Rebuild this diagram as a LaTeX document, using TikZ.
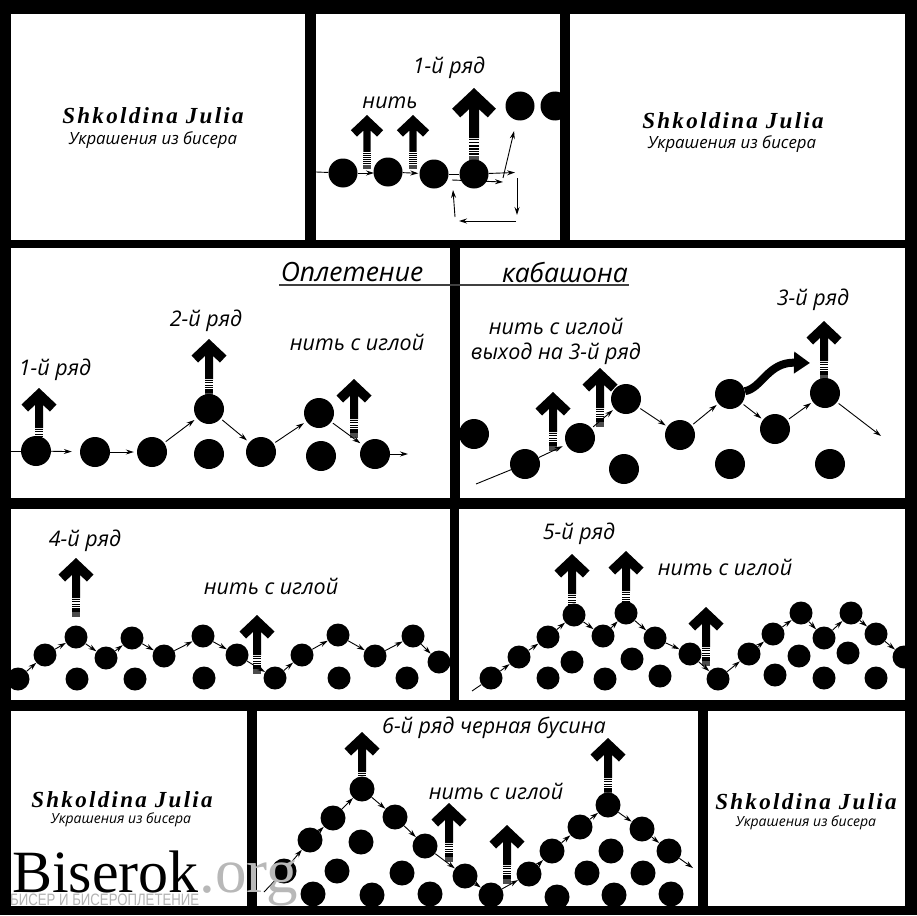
\documentclass[tikz,border=0pt]{standalone}
\usepackage{fontspec}
\setmainfont{Open Sans}
\newfontfamily\signfont[LetterSpace=10]{Liberation Serif}
\newfontfamily\markfont{Liberation Serif}
\newfontfamily\subfont{Liberation Sans}
\usetikzlibrary{arrows.meta}
\tikzset{
	panel/.style={fill=white},
	bead/.style={circle,fill=black,inner sep=0pt,minimum size=#1},
	thread/.style={-{Stealth[length=8pt,width=5pt]},line width=0.9pt,shorten >=#1},
	thread/.default=1pt,
	label/.style={font=\fontsize{21.5}{23}\selectfont\itshape,inner sep=0pt},
	titletext/.style={font=\fontsize{26.5}{28}\selectfont\itshape,inner sep=0pt},
	signature/.style={font=\fontsize{23}{24}\signfont\selectfont\bfseries\itshape,inner sep=0pt},
	signsub/.style={font=\fontsize{#1}{18}\selectfont\itshape,inner sep=0pt},
	bigarrow/.pic={
			\fill (0,0) -- (17.5,16.5) -- (11,23.5) -- (4,17) -- (4,40) -- (-4,40) -- (-4,17) -- (-11,23.5) -- (-17.5,16.5) -- cycle;
			\foreach \ya/\hh in {41/.8,43.4/.9,45.7/1.1,47.9/1.3,50/1.5,52/1.8}
				\fill (-4,\ya) rectangle (4,\ya+\hh);
			\fill[black!70] (-4,54) rectangle (4,59);
		}
}
\begin{document}
\begin{tikzpicture}[x=1pt,y=-1pt]
	\useasboundingbox (0,0) rectangle (917,915);
	\fill[black] (0,0) rectangle (917,915);
	\foreach \xa/\ya/\xb/\yb in {11/14/305/240,316/14/560/240,570/14/905/240,
			11/248/450/498,460/248/905/498,
			11/509/450/700,459/509/905/700,
			11/711/247/906,257/711/698/906,708/711/905/906}
		\fill[panel] (\xa,\ya) rectangle (\xb,\yb);

	% big arrows
	\foreach \x/\y in {39/388,209/339,354/379,553/392,600/368,824/321,
			76/558,257/615,572/554,626/551,706/607,362/732,449/803,507/825,608/738}
		\pic at (\x,\y) {bigarrow};
	\pic[scale=.92] at (367,115) {bigarrow};
	\pic[scale=.92] at (413,115) {bigarrow};
	\pic[scale=1.25] at (474,88) {bigarrow};

	% top panel
	\foreach \name/\x/\y in {t1/343/173,t2/388/172,t3/434/174,t4/474/174,t5/520/106,t6/555/106}
		\node[bead=29pt] (\name) at (\x,\y) {};
	\coordinate (ts) at (316,172);
	\coordinate (te) at (515,172.5);
	\coordinate (tl) at (452,180);
	\coordinate (tm) at (503,182);
	\coordinate (tn) at (503,178);
	\coordinate (to) at (517,178);
	\coordinate (tp) at (517,215);
	\coordinate (tq) at (516,221);
	\coordinate (tr) at (459,221);
	\coordinate (tu) at (455,217);
	\coordinate (tv) at (453,190);
	\draw[line width=0.9pt] (ts) -- (t1);
	\draw[thread=-1pt] (t1) -- ++(30,0);
	\draw[thread] (t2) -- (t3);
	\draw[thread=0pt] (t4) -- (te);
	\draw[line width=0.9pt] (t3) -- (t4);
	\draw[thread=0pt] (tl) -- (tm);
	\draw[thread=11pt] (tn) -- (t5);
	\draw[thread=0pt] (to) -- (tp);
	\draw[thread=0pt] (tq) -- (tr);
	\draw[thread=0pt] (tu) -- (tv);
	\node[label] (lt1) at (449,68) {1-й ряд};
	\node[label] (lt2) at (390,103) {нить};

	% second row left
	\foreach \name/\x/\y in {a1/36/451,a2/95/452,a3/152/452,a4/209/409,a5/209/454,a6/261/452,a7/319/413,a8/321/456,a9/375/454}
		\node[bead=30pt] (\name) at (\x,\y) {};
	\coordinate (as) at (11,451);
	\coordinate (ae) at (408,454);
	\draw[line width=0.9pt] (as) -- (a1);
	\draw[thread=8pt] (a1) -- (a2);
	\draw[thread=3pt] (a2) -- (a3);
	\foreach \p/\q in {a3/a4,a4/a6,a6/a7,a7/a9}
		\draw[thread=3pt,shorten <=2pt] (\p) -- (\q);
	\draw[thread=0pt] (a9) -- (ae);
	\node[label] (la1) at (55,370) {1-й ряд};
	\node[label] (la2) at (206,321) {2-й ряд};
	\node[label] (la3) at (357,342) {нить с иглой};

	% second row right
	\foreach \name/\x/\y in {b1/474/434,b2/525/464,b3/580/438,b4/626/399,b5/624/469,b6/680/435,b7/730/394,b8/730/464,b9/775/429,b10/825/393,b11/830/464}
		\node[bead=30pt] (\name) at (\x,\y) {};
	\coordinate (bs) at (476,484);
	\coordinate (be) at (881,436);
	\draw[line width=0.9pt] (bs) -- (b2);
	\draw[thread=4pt] (b2) -- (b3);
	\foreach \p/\q in {b3/b4,b4/b6,b6/b7,b7/b9,b9/b10}
		\draw[thread=2pt,shorten <=2pt] (\p) -- (\q);
	\draw[thread=0pt,shorten <=2pt] (b10) -- (be);
	\coordinate (bt) at (810,363);
	\draw[line width=8pt,-{Triangle[length=16pt,width=21pt]}] (b7) .. controls (762,388) and (768,362) .. (bt);
	\node[label] (lb1) at (556,326) {нить с иглой};
	\node[label] (lb2) at (556,354) {выход на 3-й ряд};
	\node[label] (lb3) at (813,300) {3-й ряд};

	% title
	\node[titletext] (titl) at (352,272) {Оплетение};
	\node[titletext] (titr) at (565,272) {кабашона};
	\coordinate (ua) at (279,285);
	\coordinate (ub) at (629,285);
	\draw[line width=1.2pt,black!75] (ua) -- (ub);

	% third row left
	\foreach \name/\x/\y in {c1/18/679,c2/45/655,c3/76/637,c4/106/658,c5/132/638,c6/164/656,c7/203/636,c8/237/655,c9/275/678,c10/302/655,c11/338/635,c12/375/656,c13/413/636,c14/439/662,
			d1/77/679,d2/135/679,d3/204/678,d4/339/678,d5/407/678}
		\node[bead=23pt] (\name) at (\x,\y) {};
	\foreach \p/\q in {c1/c2,c2/c3,c3/c4,c4/c5,c5/c6,c6/c7,c7/c8,c8/c9,c9/c10,c10/c11,c11/c12,c12/c13,c13/c14}
		\draw[thread=0pt] (\p) -- (\q);
	\node[label] (lc1) at (85,541) {4-й ряд};
	\node[label] (lc2) at (271,586) {нить с иглой};

	% third row right
	\foreach \name/\x/\y in {e1/491/678,e2/519/657,e3/548/637,e4/574/615,e5/603/636,e6/626/613,e7/655/638,e8/690/654,e9/718/679,e10/749/654,e11/773/634,e12/801/613,e13/824/638,e14/851/613,e15/876/634,e16/904/657,
			f1/548/678,f2/572/662,f3/605/679,f4/632/659,f5/660/676,f6/775/675,f7/799/656,f8/824/678,f9/848/653,f10/876/678}
		\node[bead=23pt] (\name) at (\x,\y) {};
	\coordinate (es) at (472,691);
	\draw[line width=0.9pt] (es) -- (e1);
	\foreach \p/\q in {e1/e2,e2/e3,e3/e4,e4/e5,e5/e6,e6/e7,e7/e8,e8/e9,e9/e10,e10/e11,e11/e12,e12/e13,e13/e14,e14/e15,e15/e16}
		\draw[thread=0pt] (\p) -- (\q);
	\node[label] (le1) at (579,534) {5-й ряд};
	\node[label] (le2) at (725,567) {нить с иглой};

	% bottom row
	\foreach \name/\x/\y in {g1/284/871,g2/310/840,g3/333/818,g4/362/789,g5/395/817,g6/425/846,g7/465/876,g8/491/895,g9/529/874,g10/552/851,g11/580/827,g12/608/805,g13/642/829,g14/669/851,
			h1/337/871,h2/361/842,h3/313/894,h4/372/895,h5/402/873,h6/430/894,h7/557/897,h8/587/873,h9/611/851,h10/643/873,h11/614/895,h12/671/894}
		\node[bead=25pt] (\name) at (\x,\y) {};
	\coordinate (gs) at (264,892);
	\coordinate (ge) at (693,868);
	\draw[line width=0.9pt] (gs) -- (g1);
	\foreach \p/\q in {g1/g2,g2/g3,g3/g4,g4/g5,g5/g6,g6/g7,g7/g8,g8/g9,g9/g10,g10/g11,g11/g12,g12/g13,g13/g14}
		\draw[thread=0pt] (\p) -- (\q);
	\draw[thread=0pt] (g14) -- (ge);
	\node[label] (lg1) at (494,728) {6-й ряд черная бусина};
	\node[label] (lg2) at (496,791) {нить с иглой};

	% signatures
	\foreach \name/\x/\y/\xx/\yy/\sz in {s1/153/116/153/140/16.8,s2/733/121/732/144/16.8,s3/122/800/121/820/14,s4/806/802/806/823/14}{
			\node[signature] (\name a) at (\x,\y) {Shkoldina Julia};
			\node[signsub=\sz] (\name b) at (\xx,\yy) {Украшения из бисера};
		}

	% watermark
	\node[font=\fontsize{60}{60}\markfont\selectfont,anchor=base west,inner sep=0pt] (wm1) at (12,892) {Biserok};
	\node[font=\fontsize{63}{60}\markfont\selectfont,anchor=base west,inner sep=0pt,text=black!28] (wm2) at (wm1.base east) {.org};
	\node[font=\fontsize{16.5}{18}\subfont\selectfont,anchor=base west,inner sep=0pt,text=black!30] (wm3) at (10,905) {\scalebox{.8}[1]{БИСЕР И БИСЕРОПЛЕТЕНИЕ}};
\end{tikzpicture}
\end{document}
